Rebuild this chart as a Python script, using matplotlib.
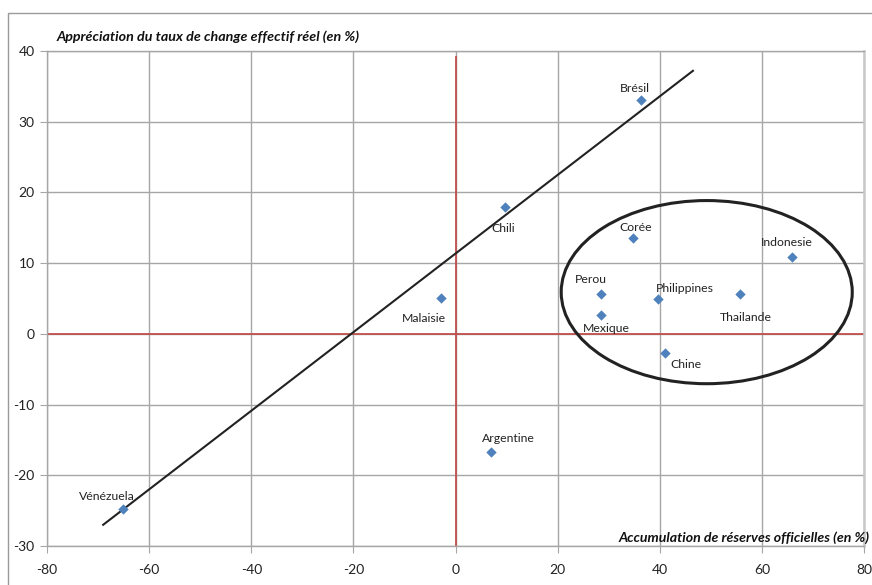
import matplotlib.pyplot as plt
from matplotlib.patches import Ellipse, Rectangle

# Data
pays = ["Brésil", "Vénézuela", "Chili", "Malaisie", "Argentine", "Corée", "Perou",
        "Mexique", "Philippines", "Thailande", "Indonesie", "Chine"]
reserves = [36.4, -65.2, 9.6, -2.9, 6.9, 34.7, 28.5, 28.5, 39.7, 55.7, 65.9, 41.0]
change = [33.1, -24.8, 18.0, 5.1, -16.7, 13.6, 5.7, 2.7, 5.0, 5.6, 10.9, -2.7]

# hand-drawn trend line and ellipse (data units)
trend_x = [-69.0, 46.5]
trend_y = [-27.0, 37.2]
ellipse_center = (49.2, 5.9)
ellipse_w, ellipse_h = 57.0, 25.9

# label offsets in points (dx, dy)
offsets = {
    "Brésil": (-5, 8), "Vénézuela": (-11, 9), "Chili": (-1, -16), "Malaisie": (-12, -15),
    "Argentine": (13, 10), "Corée": (2, 7), "Perou": (-7, 10), "Mexique": (4, -10),
    "Philippines": (19, 7), "Thailande": (4, -17), "Indonesie": (-4, 10), "Chine": (15, -8),
}

plt.rcParams['font.family'] = ['Lato', 'DejaVu Sans']
plt.rcParams['axes.unicode_minus'] = False

fig = plt.figure(figsize=(8.72, 5.85), dpi=100)
ax = fig.add_axes([47 / 872, 1 - 546 / 585, 817 / 872, 495 / 585])

# outer chart frame
fig.patches.append(Rectangle((8 / 872, -0.2), 1.2, 1.2 - 13 / 585, transform=fig.transFigure,
                             fill=False, edgecolor='#9a9a9a', linewidth=1.0))

ax.set_xlim(-80, 80)
ax.set_ylim(-30, 40)
ax.set_xticks(range(-80, 81, 20))
ax.set_yticks(range(-30, 41, 10))
ax.grid(True, color='#a6a6a6', linewidth=1.0)
ax.set_axisbelow(True)
for s in ax.spines.values():
    s.set_color('#a6a6a6')
    s.set_linewidth(1.0)
ax.spines['right'].set_color('#c8c8c8')
ax.spines['right'].set_linewidth(1.8)
ax.tick_params(axis='both', length=5, color='#a6a6a6', labelsize=10, labelcolor='#222222')
ax.tick_params(axis='x', pad=8)
ax.tick_params(axis='y', pad=4)

# red axes through origin
ax.axhline(0, color='#c0504d', linewidth=1.3, zorder=2)
ax.plot([0, 0], [-30, 39.2], color='#c0504d', linewidth=1.3, zorder=2)

ax.plot(trend_x, trend_y, color='#222222', linewidth=1.5, zorder=3)
ax.add_patch(Ellipse(ellipse_center, ellipse_w, ellipse_h, fill=False,
                     edgecolor='#222222', linewidth=2.2, zorder=3))

ax.scatter(reserves, change, marker='D', s=28, color='#4f81bd', zorder=4, linewidths=0)
for name, xv, yv in zip(pays, reserves, change):
    dx, dy = offsets[name]
    ax.annotate(name, (xv, yv), xytext=(dx, dy), textcoords='offset points',
                ha='center', va='center', fontsize=8.8, color='#222222', zorder=5)

fig.text(57 / 872, 1 - 37 / 585, "Appréciation du taux de change effectif réel (en %)",
         fontsize=10.3, fontweight='bold', fontstyle='italic', ha='left', va='center', color='#111111')
fig.text(870 / 872, 1 - 538 / 585, "Accumulation de réserves officielles (en %)",
         fontsize=10.2, fontweight='bold', fontstyle='italic', ha='right', va='center', color='#111111')

fig.savefig("out.png", dpi=100)
